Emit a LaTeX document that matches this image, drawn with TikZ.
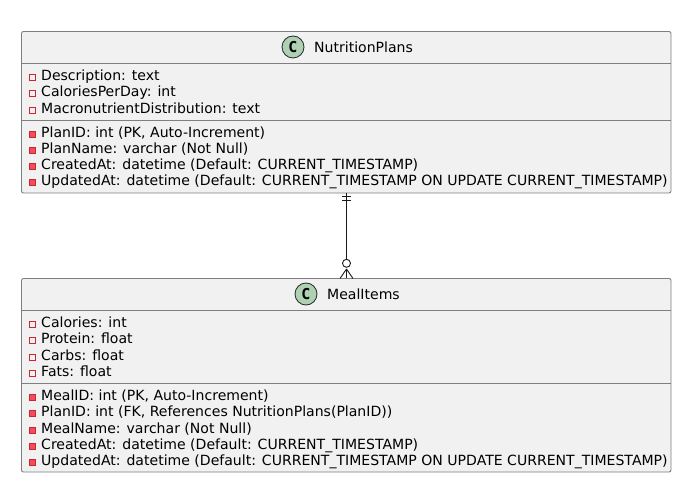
\documentclass[tikz,border=0pt]{standalone}
\usepackage{fontspec}
\setmainfont{DejaVu Sans}
\setmonofont{DejaVu Sans Mono}
\usetikzlibrary{positioning,calc}
\definecolor{cbg}{HTML}{F1F1F1}
\definecolor{cedge}{HTML}{7F7F7F}
\definecolor{cspot}{HTML}{ADD1B2}
\definecolor{cmark}{HTML}{C82930}
\definecolor{cfill}{HTML}{F24D5C}

\begin{document}
\begin{tikzpicture}[
  x=1pt, y=-1pt, font=\fontsize{14.05pt}{16pt}\selectfont,
  classbox/.style={draw=cedge, fill=cbg, rounded corners=2pt, line width=0.9pt,
                   minimum width=649.5pt, inner sep=0pt, outer sep=0pt},
  sep/.style={cedge, line width=0.9pt},
  spot/.style={draw=black!85, fill=cspot, circle, minimum size=22pt, inner sep=0pt,
               line width=0.8pt, font=\fontsize{15pt}{15pt}\selectfont\ttfamily\bfseries},
  titletext/.style={anchor=base west, inner sep=0pt},
  field/.style={anchor=base west, inner sep=0pt},
  privopen/.style={draw=cmark, fill=cbg, minimum size=5.4pt, inner sep=0pt, line width=0.8pt},
  privfull/.style={privopen, fill=cfill},
  ln/.style={black!90, line width=0.9pt}]
  \useasboundingbox (0,0) rectangle (677,478);
  \fill[white] (0,0) rectangle (677,478);

  % the two classes
  \node[classbox, minimum height=161.5pt] (plans) at (346.25,112.25) {};
  \node[classbox, minimum height=193.5pt] (meals) at (346.25,375.25) {};
  \draw[sep] (plans.west |- 0,63.5) -- (plans.east |- 0,63.5);
  \draw[sep] (plans.west |- 0,120) -- (plans.east |- 0,120);
  \draw[sep] (meals.west |- 0,310.5) -- (meals.east |- 0,310.5);
  \draw[sep] (meals.west |- 0,383.5) -- (meals.east |- 0,383.5);

  \node[spot] (s1) at (293,47) {C};
  \node[titletext] (t1) at (314,52.6) {NutritionPlans};
  \node[spot] (s2) at (306,294) {C};
  \node[titletext] (t2) at (327,299.6) {MealItems};

  \foreach \y/\t in {75/{Description: text}, 91/{CaloriesPerDay: int},
                     108/{MacronutrientDistribution: text},
                     322/{Calories: int}, 338/{Protein: float},
                     355/{Carbs: float}, 371/{Fats: float}} {
    \node[privopen] (m\y) at (32.3,\y+2.3) {};
    \node[field] (f\y) at (41,\y+5.6) {\t};
  }
  \foreach \y/\t in {132/{PlanID: int (PK, Auto-Increment)},
                     148/{PlanName: varchar (Not Null)},
                     164/{CreatedAt: datetime (Default: CURRENT\_TIMESTAMP)},
                     180/{UpdatedAt: datetime (Default: CURRENT\_TIMESTAMP ON UPDATE CURRENT\_TIMESTAMP)},
                     395/{MealID: int (PK, Auto-Increment)},
                     411/{PlanID: int (FK, References NutritionPlans(PlanID))},
                     428/{MealName: varchar (Not Null)},
                     444/{CreatedAt: datetime (Default: CURRENT\_TIMESTAMP)},
                     460/{UpdatedAt: datetime (Default: CURRENT\_TIMESTAMP ON UPDATE CURRENT\_TIMESTAMP)}} {
    \node[privfull] (m\y) at (32.3,\y+2.3) {};
    \node[field] (f\y) at (41,\y+5.6) {\t};
  }

  % relation, one to zero-or-many
  \coordinate (ring) at (346.5,263.3);
  \coordinate (tip) at (346.5,269);
  \draw[ln] (plans.south -| ring) -- (ring);
  \draw[ln] ($(plans.south -| ring)+(-4.5,3.7)$) -- ($(plans.south -| ring)+(4.5,3.7)$);
  \draw[ln] ($(plans.south -| ring)+(-4.5,7.7)$) -- ($(plans.south -| ring)+(4.5,7.7)$);
  \draw[ln, fill=white] (ring) circle (4pt);
  \draw[ln] (tip) -- (meals.north -| ring);
  \draw[ln] (tip) -- ($(meals.north -| ring)+(-6.5,0)$);
  \draw[ln] (tip) -- ($(meals.north -| ring)+(6.5,0)$);
\end{tikzpicture}
\end{document}
